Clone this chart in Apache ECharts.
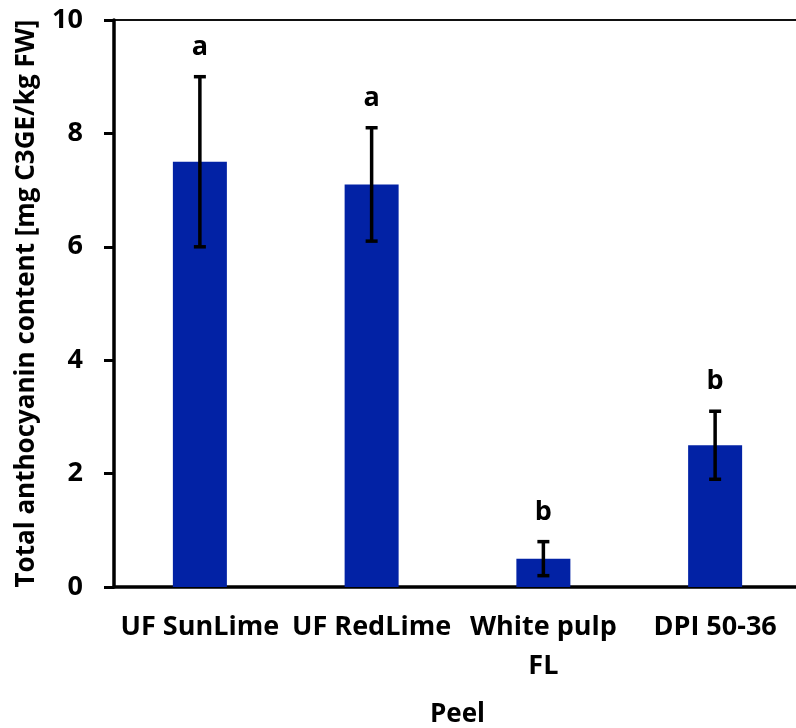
<!DOCTYPE html>
<html>
<head>
<meta charset="utf-8">
<script src="https://cdn.jsdelivr.net/npm/echarts@6/dist/echarts.min.js"></script>
<style>
  html, body { margin: 0; padding: 0; background: #fff; }
  #chart { width: 796px; height: 728px; }
</style>
</head>
<body>
<div id="chart"></div>
<script>
// Total anthocyanin content of peel, by lime selection
const categories = ['UF SunLime', 'UF RedLime', 'White pulp\nFL', 'DPI 50-36'];
const means = [7.5, 7.1, 0.5, 2.5];
const errLow = [6.0, 6.1, 0.2, 1.9];
const errHigh = [9.0, 8.1, 0.8, 3.1];
const groupLetters = ['a', 'a', 'b', 'b'];

const FONT = '"Open Sans", Lato, sans-serif';
const chart = echarts.init(document.getElementById('chart'), null, { renderer: 'canvas' });

const errorData = categories.map((c, i) => [i, errLow[i], errHigh[i]]);

chart.setOption({
  animation: false,
  backgroundColor: '#ffffff',
  grid: {
    left: 114, top: 20, width: 687, height: 567,
    containLabel: false,
    outerBoundsMode: 'none',
    show: true, borderColor: '#111', borderWidth: 2, backgroundColor: 'transparent'
  },
  xAxis: {
    type: 'category',
    data: categories,
    name: 'Peel',
    nameLocation: 'middle',
    nameGap: 115,
    nameTextStyle: { fontFamily: FONT, fontWeight: 'bold', fontSize: 26, color: '#000' },
    axisLine: { lineStyle: { color: '#000', width: 3.5 } },
    axisTick: { alignWithLabel: true, length: 7, lineStyle: { color: '#000', width: 3 } },
    axisLabel: {
      margin: 21, interval: 0,
      fontFamily: FONT, fontWeight: 'bold', fontSize: 27, color: '#000', lineHeight: 39
    },
    splitLine: { show: false }
  },
  yAxis: {
    type: 'value',
    min: 0, max: 10, interval: 2,
    name: 'Total anthocyanin content [mg C3GE/kg FW]',
    nameLocation: 'middle',
    nameGap: 74,
    nameTextStyle: { fontFamily: FONT, fontWeight: 'bold', fontSize: 26, color: '#000' },
    axisLine: { show: true, lineStyle: { color: '#000', width: 3.5 } },
    axisTick: { show: true, length: 10, lineStyle: { color: '#000', width: 3 } },
    axisLabel: { margin: 31, fontFamily: FONT, fontWeight: 'bold', fontSize: 27, color: '#000' },
    splitLine: { show: false }
  },
  series: [
    {
      type: 'bar',
      data: means,
      barWidth: 54,
      itemStyle: { color: '#0222A5' },
      z: 2
    },
    {
      type: 'custom',
      data: errorData,
      z: 5,
      renderItem: function (params, api) {
        const idx = api.value(0);
        const lo = api.coord([idx, api.value(1)]);
        const hi = api.coord([idx, api.value(2)]);
        const half = 6;
        const style = { stroke: '#000', lineWidth: 3.5 };
        return {
          type: 'group',
          children: [
            { type: 'line', shape: { x1: hi[0], y1: hi[1], x2: lo[0], y2: lo[1] }, style: style },
            { type: 'line', shape: { x1: hi[0] - half, y1: hi[1], x2: hi[0] + half, y2: hi[1] }, style: style },
            { type: 'line', shape: { x1: lo[0] - half, y1: lo[1], x2: lo[0] + half, y2: lo[1] }, style: style },
            {
              type: 'text',
              x: hi[0], y: hi[1] - 16,
              style: {
                text: groupLetters[params.dataIndex],
                fill: '#000',
                font: 'bold 27px ' + FONT,
                align: 'center',
                verticalAlign: 'bottom'
              }
            }
          ]
        };
      }
    }
  ]
});
</script>
</body>
</html>
